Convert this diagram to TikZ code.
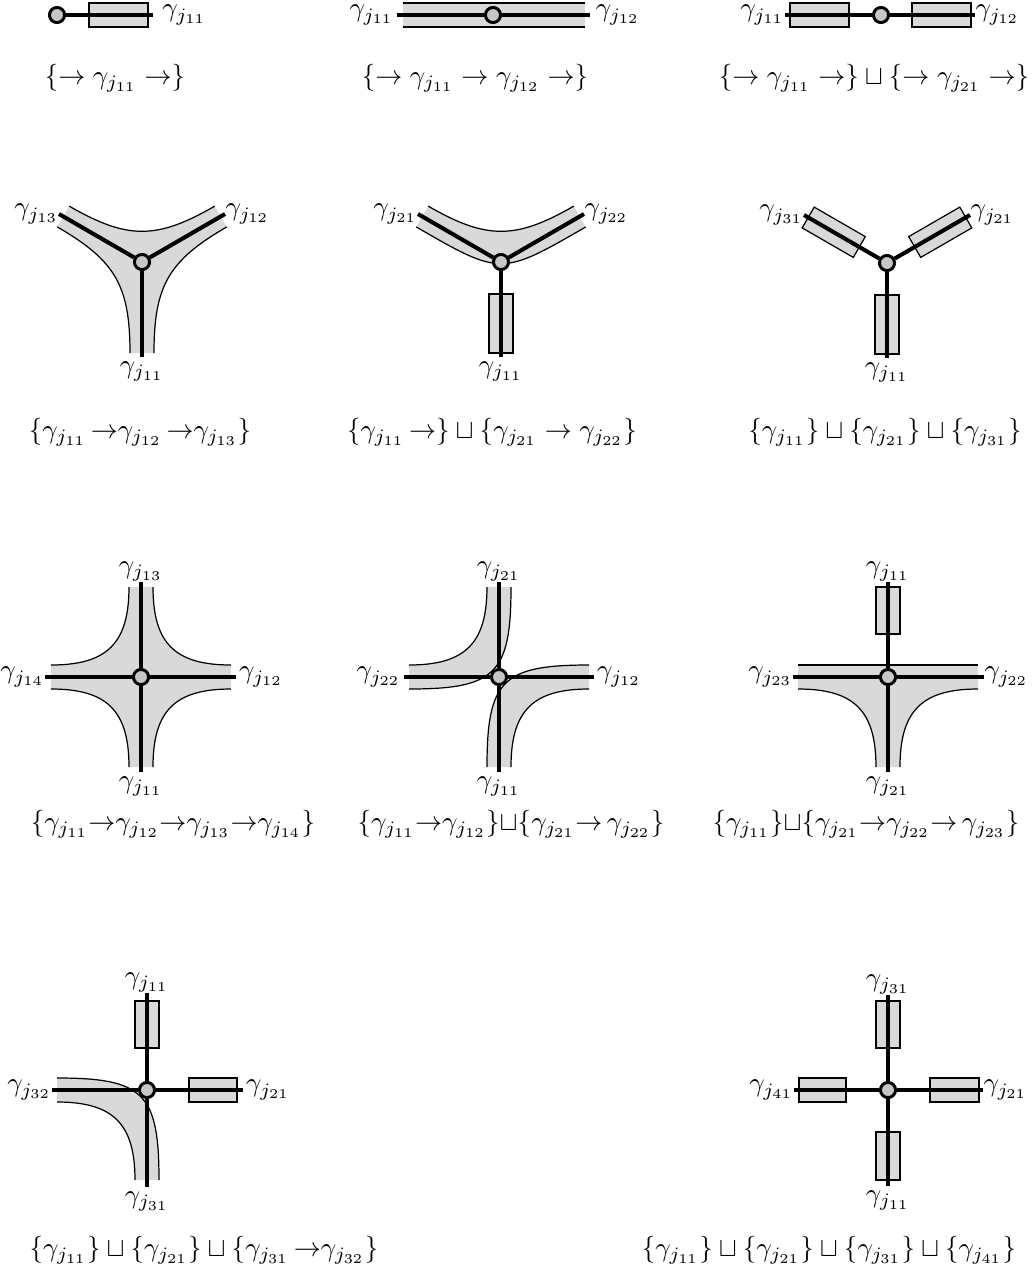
\documentclass[tikz,border=0pt]{standalone}
\usetikzlibrary{calc}
\begin{document}
\begin{tikzpicture}[x=0.37pt,y=-0.37pt,
  band/.style={fill=black!15, draw=none},
  edge/.style={draw=black, line width=0.45pt},
  boxr/.style={fill=black!15, draw=black, line width=0.45pt},
  arm/.style={line width=1.5pt},
  hub/.style={circle, draw, line width=1.1pt, fill=black!22, minimum size=5.6pt, inner sep=0pt},
  lab/.style={inner sep=0pt},
  captxt/.style={inner sep=0pt}]
\useasboundingbox (0,0) rectangle (1032,1279);

% ---------- Row 1, panel 1
\begin{scope}[shift={(57,15)}]
  \path[boxr] (32,-12) rectangle (91,12);
  \node[hub] (ha) at (0,0) {};
  \coordinate (ea1) at (96,0);
  \draw[arm] (ha) -- (ea1);
  \node[lab, anchor=west, xshift=3.3pt] (la1) at (ea1) {$\gamma_{j_{11}}$};
\end{scope}
\node[captxt] (ca) at (115,78) {$\{\to\gamma_{j_{11}}\to\}$};

% ---------- Row 1, panel 2
\begin{scope}[shift={(493,15)}]
  \fill[band] (-90,-12) rectangle (92,12);
  \draw[edge] (-90,-12) -- (92,-12);
  \draw[edge] (-90,12) -- (92,12);
  \node[hub] (hb) at (0,0) {};
  \coordinate (eb1) at (-96,0);
  \coordinate (eb2) at (97,0);
  \draw[arm] (hb) -- (eb1);
  \draw[arm] (hb) -- (eb2);
  \node[lab, anchor=east, xshift=-1pt] (lb1) at (eb1) {$\gamma_{j_{11}}$};
  \node[lab, anchor=west, xshift=2pt] (lb2) at (eb2) {$\gamma_{j_{12}}$};
\end{scope}
\node[captxt] (cb) at (475,78) {$\{\to\gamma_{j_{11}}\to\gamma_{j_{12}}\to\}$};

% ---------- Row 1, panel 3
\begin{scope}[shift={(881,15)}]
  \path[boxr] (-91,-12) rectangle (-32,12);
  \path[boxr] (31,-12) rectangle (90,12);
  \node[hub] (hc) at (0,0) {};
  \coordinate (ec1) at (-96,0);
  \coordinate (ec2) at (94,0);
  \draw[arm] (hc) -- (ec1);
  \draw[arm] (hc) -- (ec2);
  \node[lab, anchor=east] (lc1) at (ec1) {$\gamma_{j_{11}}$};
  \node[lab, anchor=west] (lc2) at (ec2) {$\gamma_{j_{12}}$};
\end{scope}
\node[captxt] (cc) at (874,78) {$\{\to\gamma_{j_{11}}\to\}\sqcup\{\to\gamma_{j_{21}}\to\}$};

% ---------- Row 2, panel 1
\begin{scope}[shift={(142,262)}]
  \fill[band] (72.8,-55.9) .. controls (14.6,-22.3) and (-14.6,-22.3) .. (-72.8,-55.9)
     -- (-84.8,-35.1) .. controls (-26.6,-1.5) and (-12,23.7) .. (-12,91)
     -- (12,91) .. controls (12,23.7) and (26.6,-1.5) .. (84.8,-35.1) -- cycle;
  \draw[edge] (72.8,-55.9) .. controls (14.6,-22.3) and (-14.6,-22.3) .. (-72.8,-55.9);
  \draw[edge] (-84.8,-35.1) .. controls (-26.6,-1.5) and (-12,23.7) .. (-12,91);
  \draw[edge] (12,91) .. controls (12,23.7) and (26.6,-1.5) .. (84.8,-35.1);
  \node[hub] (hd) at (0,0) {};
  \coordinate (ed1) at (0,95);
  \coordinate (ed2) at (83,-48);
  \coordinate (ed3) at (-83,-48);
  \draw[arm] (hd) -- (ed1);
  \draw[arm] (hd) -- (ed2);
  \draw[arm] (hd) -- (ed3);
  \node[lab, anchor=north, inner sep=1.5pt] (ld1) at (ed1) {$\gamma_{j_{11}}$};
  \node[lab, anchor=west] (ld2) at (ed2) {$\gamma_{j_{12}}$};
  \node[lab, anchor=east] (ld3) at (ed3) {$\gamma_{j_{13}}$};
\end{scope}
\node[captxt] (cd) at (140,432) {$\{\gamma_{j_{11}}\,{\to}\gamma_{j_{12}}\,{\to}\gamma_{j_{13}}\}$};

% ---------- Row 2, panel 2
\begin{scope}[shift={(501,262)}]
  \fill[band] (72.8,-55.9) .. controls (14.6,-22.3) and (-14.6,-22.3) .. (-72.8,-55.9)
     -- (-84.8,-35.1) .. controls (0,13.9) and (0,13.9) .. (84.8,-35.1) -- cycle;
  \draw[edge] (72.8,-55.9) .. controls (14.6,-22.3) and (-14.6,-22.3) .. (-72.8,-55.9);
  \draw[edge] (-84.8,-35.1) .. controls (0,13.9) and (0,13.9) .. (84.8,-35.1);
  \path[boxr] (-12,32) rectangle (12,91);
  \node[hub] (he) at (0,0) {};
  \coordinate (ee1) at (0,95);
  \coordinate (ee2) at (83,-48);
  \coordinate (ee3) at (-83,-48);
  \draw[arm] (he) -- (ee1);
  \draw[arm] (he) -- (ee2);
  \draw[arm] (he) -- (ee3);
  \node[lab, anchor=north, inner sep=1.5pt] (le1) at (ee1) {$\gamma_{j_{11}}$};
  \node[lab, anchor=west] (le2) at (ee2) {$\gamma_{j_{22}}$};
  \node[lab, anchor=east] (le3) at (ee3) {$\gamma_{j_{21}}$};
\end{scope}
\node[captxt] (ce) at (492,432) {$\{\gamma_{j_{11}}\,{\to}\}\sqcup\{\gamma_{j_{21}}\to\gamma_{j_{22}}\}$};

% ---------- Row 2, panel 3
\begin{scope}[shift={(887,263)}]
  \path[boxr] (21.7,-26.4) -- (33.7,-5.6) -- (84.8,-35.1) -- (72.8,-55.9) -- cycle;
  \path[boxr] (-21.7,-26.4) -- (-33.7,-5.6) -- (-84.8,-35.1) -- (-72.8,-55.9) -- cycle;
  \path[boxr] (-12,32) rectangle (12,91);
  \node[hub] (hf) at (0,0) {};
  \coordinate (ef1) at (0,95);
  \coordinate (ef2) at (83,-48);
  \coordinate (ef3) at (-83,-48);
  \draw[arm] (hf) -- (ef1);
  \draw[arm] (hf) -- (ef2);
  \draw[arm] (hf) -- (ef3);
  \node[lab, anchor=north, inner sep=1.5pt] (lf1) at (ef1) {$\gamma_{j_{11}}$};
  \node[lab, anchor=west] (lf2) at (ef2) {$\gamma_{j_{21}}$};
  \node[lab, anchor=east] (lf3) at (ef3) {$\gamma_{j_{31}}$};
\end{scope}
\node[captxt] (cf) at (885,432) {$\{\gamma_{j_{11}}\}\sqcup\{\gamma_{j_{21}}\}\sqcup\{\gamma_{j_{31}}\}$};

% ---------- Row 3, panel 1
\begin{scope}[shift={(141,677)}]
  \fill[band] (12,-90) .. controls (12,-33.8) and (33.8,-12) .. (90,-12)
     -- (90,12) .. controls (33.8,12) and (12,33.8) .. (12,90)
     -- (-12,90) .. controls (-12,33.8) and (-33.8,12) .. (-90,12)
     -- (-90,-12) .. controls (-33.8,-12) and (-12,-33.8) .. (-12,-90) -- cycle;
  \draw[edge] (12,-90) .. controls (12,-33.8) and (33.8,-12) .. (90,-12);
  \draw[edge] (90,12) .. controls (33.8,12) and (12,33.8) .. (12,90);
  \draw[edge] (-12,90) .. controls (-12,33.8) and (-33.8,12) .. (-90,12);
  \draw[edge] (-90,-12) .. controls (-33.8,-12) and (-12,-33.8) .. (-12,-90);
  \node[hub] (hg) at (0,0) {};
  \coordinate (eg1) at (0,95);
  \coordinate (eg2) at (95,0);
  \coordinate (eg3) at (0,-95);
  \coordinate (eg4) at (-96,0);
  \draw[arm] (hg) -- (eg1);
  \draw[arm] (hg) -- (eg2);
  \draw[arm] (hg) -- (eg3);
  \draw[arm] (hg) -- (eg4);
  \node[lab, anchor=north, inner sep=1.5pt] (lg1) at (eg1) {$\gamma_{j_{11}}$};
  \node[lab, anchor=west, inner sep=1pt] (lg2) at (eg2) {$\gamma_{j_{12}}$};
  \node[lab, anchor=south] (lg3) at (eg3) {$\gamma_{j_{13}}$};
  \node[lab, anchor=east] (lg4) at (eg4) {$\gamma_{j_{14}}$};
\end{scope}
\node[captxt] (cg) at (173,824) {$\{\gamma_{j_{11}}{\to}\gamma_{j_{12}}{\to}\gamma_{j_{13}}{\to}\gamma_{j_{14}}\}$};

% ---------- Row 3, panel 2
\begin{scope}[shift={(499,677)}]
  \fill[band] (-12,-90) .. controls (-12,-33.8) and (-33.8,-12) .. (-90,-12)
     -- (-90,12) .. controls (-3.3,12) and (12,-3.3) .. (12,-90) -- cycle;
  \draw[edge] (-12,-90) .. controls (-12,-33.8) and (-33.8,-12) .. (-90,-12);
  \draw[edge] (-90,12) .. controls (-3.3,12) and (12,-3.3) .. (12,-90);
  \fill[band] (12,90) .. controls (12,33.8) and (33.8,12) .. (90,12)
     -- (90,-12) .. controls (3.3,-12) and (-12,3.3) .. (-12,90) -- cycle;
  \draw[edge] (12,90) .. controls (12,33.8) and (33.8,12) .. (90,12);
  \draw[edge] (90,-12) .. controls (3.3,-12) and (-12,3.3) .. (-12,90);
  \node[hub] (hh) at (0,0) {};
  \coordinate (eh1) at (0,95);
  \coordinate (eh2) at (95,0);
  \coordinate (eh3) at (0,-95);
  \coordinate (eh4) at (-95,0);
  \draw[arm] (hh) -- (eh1);
  \draw[arm] (hh) -- (eh2);
  \draw[arm] (hh) -- (eh3);
  \draw[arm] (hh) -- (eh4);
  \node[lab, anchor=north, inner sep=1.5pt] (lh1) at (eh1) {$\gamma_{j_{11}}$};
  \node[lab, anchor=west, inner sep=1pt] (lh2) at (eh2) {$\gamma_{j_{12}}$};
  \node[lab, anchor=south] (lh3) at (eh3) {$\gamma_{j_{21}}$};
  \node[lab, anchor=east, inner sep=1pt] (lh4) at (eh4) {$\gamma_{j_{22}}$};
\end{scope}
\node[captxt] (ch) at (511,824) {$\{\gamma_{j_{11}}{\to}\gamma_{j_{12}}\}{\sqcup}\{\gamma_{j_{21}}{\to}\,\gamma_{j_{22}}\}$};

% ---------- Row 3, panel 3
\begin{scope}[shift={(888,677)}]
  \path[boxr] (-12,-90) rectangle (12,-43);
  \fill[band] (-90,-12) -- (90,-12) -- (90,12) .. controls (33.8,12) and (12,33.8) .. (12,90)
     -- (-12,90) .. controls (-12,33.8) and (-33.8,12) .. (-90,12) -- cycle;
  \draw[edge] (-90,-12) -- (90,-12);
  \draw[edge] (90,12) .. controls (33.8,12) and (12,33.8) .. (12,90);
  \draw[edge] (-12,90) .. controls (-12,33.8) and (-33.8,12) .. (-90,12);
  \node[hub] (hi) at (0,0) {};
  \coordinate (ei1) at (0,95);
  \coordinate (ei2) at (96,0);
  \coordinate (ei3) at (0,-95);
  \coordinate (ei4) at (-95,0);
  \draw[arm] (hi) -- (ei1);
  \draw[arm] (hi) -- (ei2);
  \draw[arm] (hi) -- (ei3);
  \draw[arm] (hi) -- (ei4);
  \node[lab, anchor=north, inner sep=1.5pt] (li1) at (ei1) {$\gamma_{j_{21}}$};
  \node[lab, anchor=west] (li2) at (ei2) {$\gamma_{j_{22}}$};
  \node[lab, anchor=south] (li3) at (ei3) {$\gamma_{j_{11}}$};
  \node[lab, anchor=east] (li4) at (ei4) {$\gamma_{j_{23}}$};
\end{scope}
\node[captxt] (ci) at (866,824) {$\{\gamma_{j_{11}}\}{\sqcup}\{\gamma_{j_{21}}{\to}\gamma_{j_{22}}{\to}\,\gamma_{j_{23}}\}$};

% ---------- Row 4, panel 1
\begin{scope}[shift={(147,1090)}]
  \path[boxr] (-12,-89) rectangle (12,-42);
  \path[boxr] (42,-12) rectangle (90,12);
  \fill[band] (-90,12) .. controls (-33.8,12) and (-12,33.8) .. (-12,90)
     -- (12,90) .. controls (12,3.3) and (-3.3,-12) .. (-90,-12) -- cycle;
  \draw[edge] (-90,12) .. controls (-33.8,12) and (-12,33.8) .. (-12,90);
  \draw[edge] (12,90) .. controls (12,3.3) and (-3.3,-12) .. (-90,-12);
  \node[hub] (hj) at (0,0) {};
  \coordinate (ej1) at (0,97);
  \coordinate (ej2) at (96,0);
  \coordinate (ej3) at (0,-97);
  \coordinate (ej4) at (-95,0);
  \draw[arm] (hj) -- (ej1);
  \draw[arm] (hj) -- (ej2);
  \draw[arm] (hj) -- (ej3);
  \draw[arm] (hj) -- (ej4);
  \node[lab, anchor=north, inner sep=1.5pt] (lj1) at (ej1) {$\gamma_{j_{31}}$};
  \node[lab, anchor=west, inner sep=1pt] (lj2) at (ej2) {$\gamma_{j_{21}}$};
  \node[lab, anchor=south] (lj3) at (ej3) {$\gamma_{j_{11}}$};
  \node[lab, anchor=east] (lj4) at (ej4) {$\gamma_{j_{32}}$};
\end{scope}
\node[captxt] (cj) at (204,1250) {$\{\gamma_{j_{11}}\}\sqcup\{\gamma_{j_{21}}\}\sqcup\{\gamma_{j_{31}}\,{\to}\gamma_{j_{32}}\}$};

% ---------- Row 4, panel 3
\begin{scope}[shift={(888,1090)}]
  \path[boxr] (-12,-89) rectangle (12,-42);
  \path[boxr] (-12,42) rectangle (12,90);
  \path[boxr] (-89,-12) rectangle (-42,12);
  \path[boxr] (42,-12) rectangle (91,12);
  \node[hub] (hk) at (0,0) {};
  \coordinate (ek1) at (0,96);
  \coordinate (ek2) at (95,0);
  \coordinate (ek3) at (0,-95);
  \coordinate (ek4) at (-94,0);
  \draw[arm] (hk) -- (ek1);
  \draw[arm] (hk) -- (ek2);
  \draw[arm] (hk) -- (ek3);
  \draw[arm] (hk) -- (ek4);
  \node[lab, anchor=north, inner sep=1.5pt] (lk1) at (ek1) {$\gamma_{j_{11}}$};
  \node[lab, anchor=west] (lk2) at (ek2) {$\gamma_{j_{21}}$};
  \node[lab, anchor=south] (lk3) at (ek3) {$\gamma_{j_{31}}$};
  \node[lab, anchor=east] (lk4) at (ek4) {$\gamma_{j_{41}}$};
\end{scope}
\node[captxt] (ck) at (829,1250) {$\{\gamma_{j_{11}}\}\sqcup\{\gamma_{j_{21}}\}\sqcup\{\gamma_{j_{31}}\}\sqcup\{\gamma_{j_{41}}\}$};
\end{tikzpicture}
\end{document}
